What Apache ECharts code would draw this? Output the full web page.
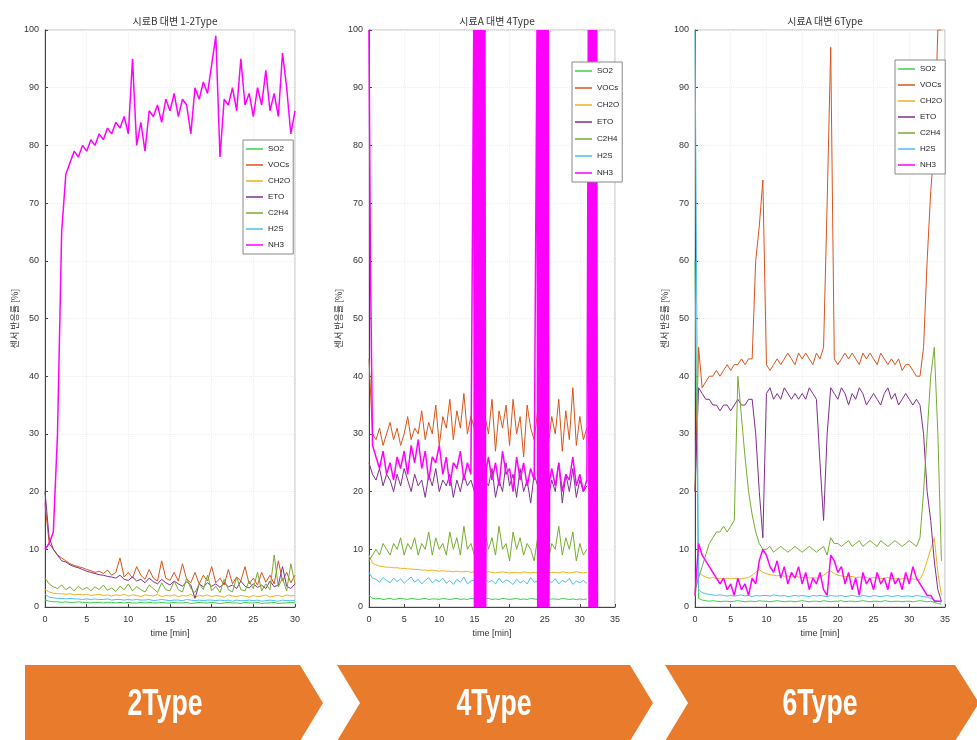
<!DOCTYPE html>
<html>
<head>
<meta charset="utf-8">
<script src="https://cdn.jsdelivr.net/npm/echarts@6.0.0/dist/echarts.min.js"></script>
<style>
  html, body { margin: 0; padding: 0; background: #fff; }
  #chart { width: 977px; height: 740px; }
</style>
</head>
<body>
<div id="chart"></div>
<script>
// 센서 이름, 색
const names = ['SO2', 'VOCs', 'CH2O', 'ETO', 'C2H4', 'H2S', 'NH3'];
const colors = ['#3ccf4e', '#d9541a', '#eeb220', '#7e2f8e', '#77ac30', '#4dbeee', '#ff00ff'];
const titles = ['시료B 대변 1-2Type', '시료A 대변 4Type', '시료A 대변 6Type'];
const banners = ['2Type', '4Type', '6Type'];

// ---- 1-2Type (0~30 min) ----
const t1 = [0,0.5,1,1.5,2,2.5,3,3.5,4,4.5, 5,5.5,6,6.5,7,7.5,8,8.5,9,9.5,
  10,10.5,11,11.5,12,12.5,13,13.5,14,14.5, 15,15.5,16,16.5,17,17.5,18,18.5,19,19.5,
  20,20.5,21,21.5,22,22.5,23,23.5,24,24.5, 25,25.5,26,26.5,27,27.5,28,28.5,29,29.5, 30];
const p1SO2 = [1.2,1,0.9,0.9,0.8,0.9,0.8,0.8,0.9,0.8, 0.8,0.7,0.8,0.8,0.7,0.8,0.8,0.7,0.8,0.7,
  0.8,0.7,0.7,0.8,0.7,0.8,0.7,0.7,0.8,0.7, 0.7,0.8,0.7,0.7,0.8,0.6,0.7,0.8,0.7,0.7,
  0.8,0.7,0.6,0.7,0.8,0.7,0.7,0.6,0.8,0.7, 0.7,0.8,0.6,0.7,0.7,0.8,0.6,0.7,0.7,0.8, 0.7];
const p1VOC = [18,11,10,9,8.5,8,7.5,7.2,7,6.8, 6.5,6.3,6,6.2,5.8,6.4,5.5,6,8.5,5.2,
  6,5,7,5.5,4.8,6.5,5,4.5,8,5, 4.6,6,4.5,7.5,4.8,4.2,6,4,5.5,4.5,
  7,4.2,5,3.8,6.5,4,5.2,4.5,7,4, 5,3.8,6,4.3,5.5,4,8,4.5,6,4.2, 5.5];
const p1CH2O = [3,2.6,2.4,2.3,2.3,2.2,2.3,2.1,2.2,2.1, 2.2,2,2.1,2.2,2,2.1,1.9,2.1,2,2.2,
  1.9,2.1,2,1.8,2.1,2,1.9,2.2,1.8,2, 1.9,2.1,1.8,2,1.9,2.2,1.7,2,1.9,2.1,
  1.8,2,1.9,1.7,2.1,1.9,1.8,2,1.9,1.7, 2,1.8,1.9,2.1,1.7,1.9,2,1.8,2.1,1.9, 2];
const p1ETO = [20,12,10,9,8,7.8,7.3,7,6.8,6.5, 6.2,6,5.8,5.6,5.5,5.3,5.2,5,5.5,4.8,
  4.6,5.2,4.5,4.8,4.2,5,4.4,4,4.8,4.2, 3.8,4.5,4,3.6,4.4,3.8,1.5,4,3.5,4.2,
  3.6,4,3.4,4.2,3.5,3.8,3.2,4.5,3.6,3.3, 4,3.4,3.8,3.2,4.5,3.5,3.8,7,3.6,3.2, 4];
const p1C2H4 = [5,4,3.5,3.2,3.8,3,3.5,2.8,3.6,3, 3.4,2.8,3.5,3,3.8,2.9,3.3,2.7,3.6,3,
  4,2.8,3.5,3,2.6,3.8,3.2,2.5,4.2,3, 2.8,4.5,3,2.6,5,3.2,2.5,4,3,5.5,
  2.8,3.6,2.5,4.8,3,2.6,5.2,3,2.8,4.5, 3.2,6,2.8,4,3,9,3.5,5,2.8,7.5, 4];
const p1H2S = [2.2,1.7,1.6,1.5,1.5,1.4,1.5,1.4,1.4,1.3, 1.4,1.3,1.4,1.3,1.3,1.4,1.2,1.3,1.3,1.2,
  1.3,1.2,1.3,1.2,1.2,1.3,1.1,1.2,1.3,1.2, 1.1,1.2,1.2,1.1,1.3,1.2,1.1,1.2,1.1,1.2,
  1.2,1.1,1.2,1.1,1.2,1.0,1.2,1.1,1.1,1.2, 1.1,1.2,1.0,1.1,1.2,1.1,1.0,1.2,1.1,1.1, 1.1];
const p1NH3 = [10,11,13,30,65,75,77,79,78,80, 79,81,80,82,81,83,82,84,83,85,
  82,95,80,84,79,86,85,87,84,88, 86,89,85,88,87,82,90,88,91,89,
  94,99,78,88,87,90,86,95,87,89, 85,90,87,93,86,89,85,96,90,82, 86];

// ---- 4Type (0~31 min, NH3 ~32.6 min) ----
const t2 = [0,0.5,1,1.5,2,2.5,3,3.5,4,4.5, 5,5.5,6,6.5,7,7.5,8,8.5,9,9.5,
  10,10.5,11,11.5,12,12.5,13,13.5,14,14.5, 15,15.5,16,16.5,17,17.5,18,18.5,19,19.5,
  20,20.5,21,21.5,22,22.5,23,23.5,24,24.5, 25,25.5,26,26.5,27,27.5,28,28.5,29,29.5, 30,30.5,31];
const p2SO2 = [2,1.5,1.4,1.5,1.3,1.4,1.5,1.3,1.4,1.5, 1.4,1.3,1.5,1.4,1.3,1.4,1.5,1.3,1.4,1.4,
  1.3,1.5,1.4,1.3,1.4,1.5,1.3,1.4,1.3,1.5, 1.4,1.3,1.2,1.4,1.5,1.3,1.4,1.3,1.5,1.4,
  1.3,1.4,1.5,1.3,1.4,1.3,1.5,1.4,1.3,1.4, 1.5,1.3,1.4,1.4,1.3,1.5,1.4,1.3,1.4,1.3, 1.4,1.3,1.4];
const p2VOC = [43,30,29,31,28,30,32,29,31,28, 30,33,29,31,30,34,29,32,30,35,
  28,33,31,36,29,34,31,37,30,33, 31,34,28,33,30,36,27,34,31,35,
  28,36,30,33,26,35,31,29,34,30, 37,28,33,30,36,27,34,29,38,28, 33,29,31];
const p2CH2O = [9,7.6,7.3,7.1,7,6.9,6.9,6.8,6.8,6.7, 6.7,6.6,6.6,6.5,6.5,6.4,6.4,6.3,6.4,6.3,
  6.2,6.3,6.2,6.2,6.1,6.2,6.1,6.1,6.2,6, 6.1,6,6.1,6,6.1,6,5.9,6,6.1,6,
  5.9,6,6,5.9,6.1,6,5.9,6,5.9,6, 6.1,5.9,6,6,5.9,6.1,6,5.9,6,6.1, 6,5.9,6];
const p2ETO = [25,23,22,24,21,23,22,20,23,21, 24,22,20,23,21,22,19,23,21,24,
  20,22,21,23,19,22,20,23,21,22, 20,23,15,22,21,24,19,22,20,25,
  21,23,19,24,20,22,18,23,21,20, 24,19,22,20,25,18,23,20,24,19, 22,20,21];
const p2C2H4 = [8,9,10,9,11,10,9,11,10,12, 9,11,10,12,9,11,10,13,9,12,
  10,11,9,13,10,12,9,14,10,11, 9,12,8,13,10,12,9,14,10,11,
  8,13,10,12,9,11,10,8,12,9, 13,8,11,10,14,9,12,10,13,8, 11,9,10];
const p2H2S = [6,5,4.8,4.3,5.1,4.6,4.2,5,4.4,4.9, 4.1,4.7,5.2,4.3,4.8,4,4.6,5.1,4.2,4.7,
  4.4,5,4.1,4.6,3.9,4.8,4.3,5.2,4,4.5, 4.7,4.1,3.6,4.9,4.3,4.6,4,5,4.2,4.7,
  4.4,3.9,4.8,4.2,4.6,4,5.1,4.3,4.5,4.1, 3.8,4.7,4.2,4.9,4,4.6,4.3,5,3.9,4.5, 4.2,4.6,4.1];
// NH3: [time, value], 포화 구간은 0/100 사이를 오감
const p2NH3 = [[0,100],[0.2,60],[0.5,28],[1,26],[1.5,24],[2,27],[2.5,23],[3,25],[3.5,22],[4,26],
  [4.5,24],[5,27],[5.5,23],[6,28],[6.5,25],[7,29],[7.5,24],[8,27],[8.5,22],[9,26],[9.5,25],
  [10,28],[10.5,23],[11,26],[11.5,21],[12,25],[12.5,24],[13,27],[13.5,22],[14,25],[14.5,23],
  [14.9,100],[15,0],[15.1,100],[15.2,0],[15.3,100],[15.4,0],[15.5,100],[15.6,0],[15.7,100],
  [15.8,0],[15.9,100],[16,0],[16.1,100],[16.2,0],[16.3,100],[16.4,0],[16.5,100],[16.6,0],[16.7,24],
  [17,26],[17.5,22],[18,25],[18.5,21],[19,27],[19.5,23],[20,24],[20.5,20],[21,26],[21.5,22],
  [22,25],[22.5,21],[23,24],[23.5,22],
  [23.9,100],[24,0],[24.1,100],[24.2,0],[24.3,100],[24.4,0],[24.5,100],[24.6,0],[24.7,100],
  [24.8,0],[24.9,100],[25,0],[25.1,100],[25.2,0],[25.3,100],[25.4,0],[25.5,100],[25.6,0],[25.7,22],
  [26,24],[26.5,21],[27,25],[27.5,20],[28,23],[28.5,22],[29,26],[29.5,21],[30,23],[30.5,20],[31,22],
  [31.2,100],[31.3,0],[31.4,100],[31.5,0],[31.6,100],[31.7,0],[31.8,100],[31.9,0],[32,100],
  [32.1,0],[32.2,100],[32.3,0],[32.4,100],[32.5,0],[32.6,0]];

// ---- 6Type (0~34.5 min) ----
const t3 = [0,0.5,1,1.5,2,2.5,3,3.5,4,4.5, 5,5.5,6,6.5,7,7.5,8,8.5,9,9.5,
  10,10.5,11,11.5,12,12.5,13,13.5,14,14.5, 15,15.5,16,16.5,17,17.5,18,18.5,19,19.5,
  20,20.5,21,21.5,22,22.5,23,23.5,24,24.5, 25,25.5,26,26.5,27,27.5,28,28.5,29,29.5,
  30,30.5,31,31.5,32,32.5,33,33.5,34,34.5];
const p3SO2 = [60,1.5,1.2,1.1,1,1.1,1,0.9,1,1, 0.9,1,1.1,1,0.9,1,1,0.9,1.1,1,
  1,0.9,1,1.1,1,0.9,1,1,0.9,1, 1.1,1,0.9,1,1,0.9,1.1,1,0.9,1,
  1,1.1,0.9,1,1,0.9,1,1.1,1,0.9, 1,1,0.9,1.1,1,0.9,1,1,0.9,1,
  1,0.9,1,1.1,1,0.9,1,0.8,0.6,0.5];
const p3VOC = [20,45,38,39,40,40,41,40,41,42, 41,42,42,43,42,43,43,60,66,74,
  42,41,42,43,42,43,44,43,42,44, 43,44,43,42,44,43,45,70,97,43,
  42,43,44,43,44,43,42,44,43,44, 43,42,44,43,42,43,42,43,41,42,
  42,41,40,40,45,60,72,80,100,100];
const p3CH2O = [2,6,5.5,5.2,5,5.1,4.9,5,4.8,5, 4.9,5,4.8,4.9,5,5.1,5.5,6,6.5,6,
  5.8,5.6,5.5,5.4,5.5,5.3,5.4,5.2,5.3,5.2, 5.1,5.2,5,5.1,5,5.2,5.5,6,6.2,5.8,
  5.5,5.4,5.3,5.2,5.3,5.1,5.2,5,5.1,5, 5.1,5,4.9,5,5.1,4.9,5,4.8,4.9,5,
  4.8,4.9,4.7,4.8,6,8,10,12,6,2];
const p3ETO = [20,38,37,36,36,35,35,34,35,35, 34,35,36,35,35,36,36,30,20,12,
  37,38,36,37,36,38,37,36,37,36, 37,36,38,37,36,25,15,30,38,37,
  36,38,37,35,37,36,38,37,35,36, 37,36,35,37,38,36,37,35,36,37,
  36,35,36,35,30,20,15,8,3,1];
const p3C2H4 = [3,5,7,9,11,12,13,13,14,13, 14,15,40,33,26,20,16,13,11,10,
  10,10.5,9.5,10,10.5,10,9.5,10,10.5,10, 9.5,10,10.5,10,9.5,10,10.5,9,12,11,
  11,10.5,11,11.5,10.5,11,11.5,10.5,11,11.5, 11,10.5,11.5,11,10.5,11,11.5,11,10.5,11,
  11.5,11,10.5,12,20,30,40,45,30,8];
const p3H2S = [100,3,2.5,2.3,2.2,2.1,2,2.1,2,1.9, 2,1.9,2,2.1,1.9,2,1.8,2,1.9,2,
  2,1.9,2.1,2,1.9,2,1.8,1.9,2,1.9, 2,1.9,1.8,2,1.9,2,1.9,1.8,2,1.9,
  1.9,2,1.8,1.9,2,1.9,1.8,2,1.9,1.8, 2,1.9,1.8,1.9,2,1.8,1.9,2,1.8,1.9,
  1.9,1.8,2,1.9,1.8,1.7,1.5,1.2,1,0.8];
const p3NH3 = [2,11,9,8,7,6,5,4,5,3, 4,2,5,3,4,2,5,4,8,10,
  9,7,6,8,5,7,4,6,5,7, 4,6,3,5,4,6,3,2,9,8,
  6,7,4,6,3,5,2,6,4,5, 3,6,4,5,3,6,4,5,3,6,
  4,7,5,4,3,2,2,1,1,1];

const pair = (ts, vs) => ts.map((t, i) => [t, vs[i]]);

const panels = [
  { xMax: 30, grid: { left: 45, top: 30, width: 250, height: 577 }, legend: { left: 243, top: 140, gap: 8 },
    data: [pair(t1, p1SO2), pair(t1, p1VOC), pair(t1, p1CH2O), pair(t1, p1ETO), pair(t1, p1C2H4), pair(t1, p1H2S), pair(t1, p1NH3)] },
  { xMax: 35, grid: { left: 369, top: 30, width: 246, height: 577 }, legend: { left: 572, top: 62, gap: 9 },
    data: [pair(t2, p2SO2), pair(t2, p2VOC), pair(t2, p2CH2O), pair(t2, p2ETO), pair(t2, p2C2H4), pair(t2, p2H2S), p2NH3] },
  { xMax: 35, grid: { left: 695, top: 30, width: 250, height: 577 }, legend: { left: 895, top: 60, gap: 8 },
    data: [pair(t3, p3SO2), pair(t3, p3VOC), pair(t3, p3CH2O), pair(t3, p3ETO), pair(t3, p3C2H4), pair(t3, p3H2S), pair(t3, p3NH3)] }
];

const tickFont = { fontSize: 9, color: '#333', fontFamily: 'Liberation Sans, Arial, sans-serif' };

const option = {
  backgroundColor: '#fff',
  animation: false,
  title: panels.map((p, i) => ({
    text: titles[i],
    left: p.grid.left + p.grid.width / 2,
    top: 11,
    textAlign: 'center',
    textStyle: { fontSize: 10, fontWeight: 'normal', color: '#333', fontFamily: 'Noto Sans CJK KR, sans-serif' }
  })),
  grid: panels.map(p => Object.assign({ show: true, borderColor: '#bbb', borderWidth: 1 }, p.grid)),
  xAxis: panels.map((p, i) => ({
    gridIndex: i, type: 'value', min: 0, max: p.xMax, interval: 5,
    name: 'time [min]', nameLocation: 'middle', nameGap: 22,
    nameTextStyle: tickFont,
    axisLine: { show: true, onZero: false, lineStyle: { color: '#444' } },
    axisTick: { inside: true, length: 3, lineStyle: { color: '#444' } },
    axisLabel: Object.assign({ margin: 8 }, tickFont),
    splitLine: { show: true, lineStyle: { color: '#eee', type: 'dotted' } }
  })),
  yAxis: panels.map((p, i) => ({
    gridIndex: i, type: 'value', min: 0, max: 100, interval: 10,
    name: '센서 반응률 [%]', nameLocation: 'middle', nameGap: 26,
    nameTextStyle: { fontSize: 9, color: '#333', fontFamily: 'Noto Sans CJK KR, sans-serif' },
    axisLine: { show: true, lineStyle: { color: '#444' } },
    axisTick: { inside: true, length: 3, lineStyle: { color: '#444' } },
    axisLabel: Object.assign({ margin: 6 }, tickFont),
    splitLine: { show: true, lineStyle: { color: '#eee', type: 'dotted' } }
  })),
  legend: panels.map(p => ({
    orient: 'vertical', left: p.legend.left, top: p.legend.top,
    data: names, icon: 'rect', itemWidth: 17, itemHeight: 1.5, itemGap: p.legend.gap,
    padding: [5, 3],
    backgroundColor: '#fff', borderColor: '#888', borderWidth: 1,
    textStyle: { fontSize: 8, color: '#222', fontFamily: 'Liberation Sans, Arial, sans-serif' }
  })),
  series: [],
  graphic: []
};

panels.forEach((p, i) => {
  names.forEach((n, k) => {
    option.series.push({
      type: 'line', name: n, xAxisIndex: i, yAxisIndex: i,
      data: p.data[k], symbol: 'none', clip: true,
      lineStyle: { width: n === 'NH3' ? 1.5 : 1, color: colors[k] },
      itemStyle: { color: colors[k] }
    });
  });
});

// 하단 주황 화살표 배너
const bannerShapes = [
  [[25, 665], [300, 665], [323, 703], [300, 741], [25, 741]],
  [[337, 665], [630, 665], [653, 703], [630, 741], [337, 741], [360, 703]],
  [[665, 665], [955, 665], [979, 703], [955, 741], [665, 741], [688, 703]]
];
const bannerCenters = [165, 494, 820];
bannerShapes.forEach((pts, i) => {
  option.graphic.push({ type: 'polygon', shape: { points: pts }, style: { fill: '#e97b2d' }, z: 10 });
  option.graphic.push({
    type: 'text', x: bannerCenters[i], y: 705, scaleX: 0.74, z: 11,
    style: {
      text: banners[i], fill: '#fff', align: 'center', verticalAlign: 'middle',
      font: 'bold 36px "Liberation Sans", Arial, sans-serif'
    }
  });
});

const chart = echarts.init(document.getElementById('chart'), null, { renderer: 'canvas' });
chart.setOption(option);
</script>
</body>
</html>
